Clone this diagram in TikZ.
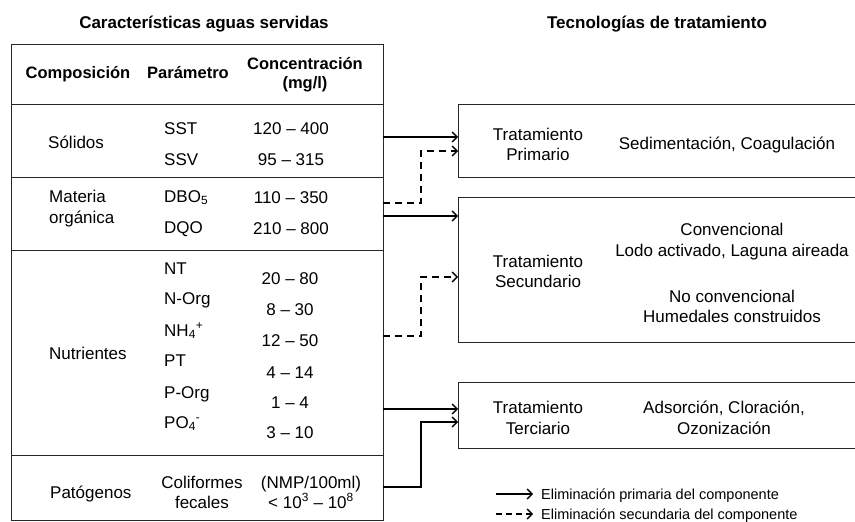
\documentclass[tikz,border=0pt]{standalone}
\usepackage{fontspec}
\setmainfont{Liberation Sans}
\usetikzlibrary{arrows.meta,calc}
\begin{document}
\begin{tikzpicture}[x=1pt,y=-1pt,
  t/.style={anchor=base,inner sep=0pt,font=\fontsize{17}{20}\selectfont},
  tl/.style={t,anchor=base west},
  hd/.style={anchor=base,inner sep=0pt,font=\fontsize{16.5}{20}\selectfont\bfseries},
  ttl/.style={anchor=base,inner sep=0pt,font=\fontsize{17}{20}\selectfont\bfseries},
  lg/.style={anchor=base west,inner sep=0pt,font=\fontsize{14.5}{17}\selectfont},
  tbl/.style={draw=black!85,line width=1pt},
  bx/.style={draw=black!85,line width=1pt,anchor=north west,minimum width=420pt,inner sep=0pt,outer sep=0pt},
  pri/.style={line width=1.6pt,-{Straight Barb[length=5pt,width=10pt,line width=1.4pt]}},
  sec/.style={pri,dash pattern=on 7pt off 5pt},
]
\useasboundingbox (0,0) rectangle (855,522);
% titles
\node[ttl] (title1) at (204,28) {Características aguas servidas};
\node[ttl] (title2) at (657,28) {Tecnologías de tratamiento};
% table
\node[tbl,anchor=north west,minimum width=372pt,minimum height=476pt,inner sep=0pt,outer sep=0pt] (tab) at (11,44) {};
\draw[tbl] (tab.west |- 0,104) -- (tab.east |- 0,104);
\draw[tbl] (tab.west |- 0,177) -- (tab.east |- 0,177);
\draw[tbl] (tab.west |- 0,250) -- (tab.east |- 0,250);
\draw[tbl] (tab.west |- 0,455) -- (tab.east |- 0,455);
% header
\node[hd] (h1) at (78,78) {Composición};
\node[hd] (h2) at (188,78) {Parámetro};
\node[hd] (h3a) at (305,69) {Concentración};
\node[hd] (h3b) at (305,88) {(mg/l)};
% solidos
\node[tl] (c1) at (48,148) {Sólidos};
\node[tl] (p1) at (164,134) {SST};
\node[tl] (p2) at (164,165) {SSV};
\node[t] (v1) at (291,134) {120 – 400};
\node[t] (v2) at (291,165) {95 – 315};
% materia organica
\node[tl] (c2a) at (49,202) {Materia};
\node[tl] (c2b) at (49,223) {orgánica};
\node[tl] (p3) at (164,202) {DBO\textsubscript{5}};
\node[tl] (p4) at (164,233) {DQO};
\node[t] (v3) at (291,203) {110 – 350};
\node[t] (v4) at (291,234) {210 – 800};
% nutrientes
\node[tl] (c3) at (49,359) {Nutrientes};
\node[tl] (p5) at (164,274) {NT};
\node[tl] (p6) at (164,304) {N-Org};
\node[tl] (p7) at (164,336) {NH\textsubscript{4}\textsuperscript{+}};
\node[tl] (p8) at (164,366) {PT};
\node[tl] (p9) at (164,398) {P-Org};
\node[tl] (p10) at (164,428) {PO\textsubscript{4}\textsuperscript{-}};
\node[t] (v5) at (290,284) {20 – 80};
\node[t] (v6) at (290,315) {8 – 30};
\node[t] (v7) at (290,346) {12 – 50};
\node[t] (v8) at (290,378) {4 – 14};
\node[t] (v9) at (290,408) {1 – 4};
\node[t] (v10) at (290,438) {3 – 10};
% patogenos
\node[tl] (c4) at (50,498) {Patógenos};
\node[t] (p11a) at (202,488) {Coliformes};
\node[t] (p11b) at (202,508) {fecales};
\node[t] (v11a) at (311,488) {(NMP/100ml)};
\node[t] (v11b) at (311,508) {< 10\textsuperscript{3} – 10\textsuperscript{8}};
% treatment boxes
\node[bx,minimum height=73pt] (prim) at (458,104) {};
\node[bx,minimum height=145pt] (secu) at (458,197) {};
\node[bx,minimum height=66pt] (terc) at (458,382) {};
\node[t] (b1a) at (538,140) {Tratamiento};
\node[t] (b1b) at (538,160) {Primario};
\node[t] (b1c) at (727,149) {Sedimentación, Coagulación};
\node[t] (b2a) at (538,267) {Tratamiento};
\node[t] (b2b) at (538,287) {Secundario};
\node[t] (b2c) at (732,235) {Convencional};
\node[t] (b2d) at (732,256) {Lodo activado, Laguna aireada};
\node[t] (b2e) at (732,302) {No convencional};
\node[t] (b2f) at (732,322) {Humedales construidos};
\node[t] (b3a) at (538,413) {Tratamiento};
\node[t] (b3b) at (538,434) {Terciario};
\node[t] (b3c) at (724,413) {Adsorción, Cloración,};
\node[t] (b3d) at (724,434) {Ozonización};
% connectors
\coordinate (s1) at (tab.east |- 0,137);
\draw[pri] (s1) -- (prim.west |- s1);
\coordinate (d1) at (tab.east |- 0,203);
\draw[sec] (d1) -- ++(38,0) |- (prim.west |- 0,151);
\coordinate (s2) at (tab.east |- 0,216);
\draw[pri] (s2) -- (secu.west |- s2);
\coordinate (d2) at (tab.east |- 0,336);
\draw[sec] (d2) -- ++(38,0) |- (secu.west |- 0,277);
\coordinate (s3) at (tab.east |- 0,409);
\draw[pri] (s3) -- (terc.west |- s3);
\coordinate (s4) at (tab.east |- 0,487);
\draw[pri] (s4) -- ++(38,0) |- (terc.west |- 0,422);
% legend
\coordinate (l1a) at (496,494);
\coordinate (l1b) at (533,494);
\draw[pri] (l1a) -- (l1b);
\node[lg] (l1t) at (541,499) {Eliminación primaria del componente};
\coordinate (l2a) at (496,514);
\coordinate (l2b) at (533,514);
\draw[sec,dash pattern=on 6pt off 4pt] (l2a) -- (l2b);
\node[lg] (l2t) at (541,519) {Eliminación secundaria del componente};
\end{tikzpicture}
\end{document}
